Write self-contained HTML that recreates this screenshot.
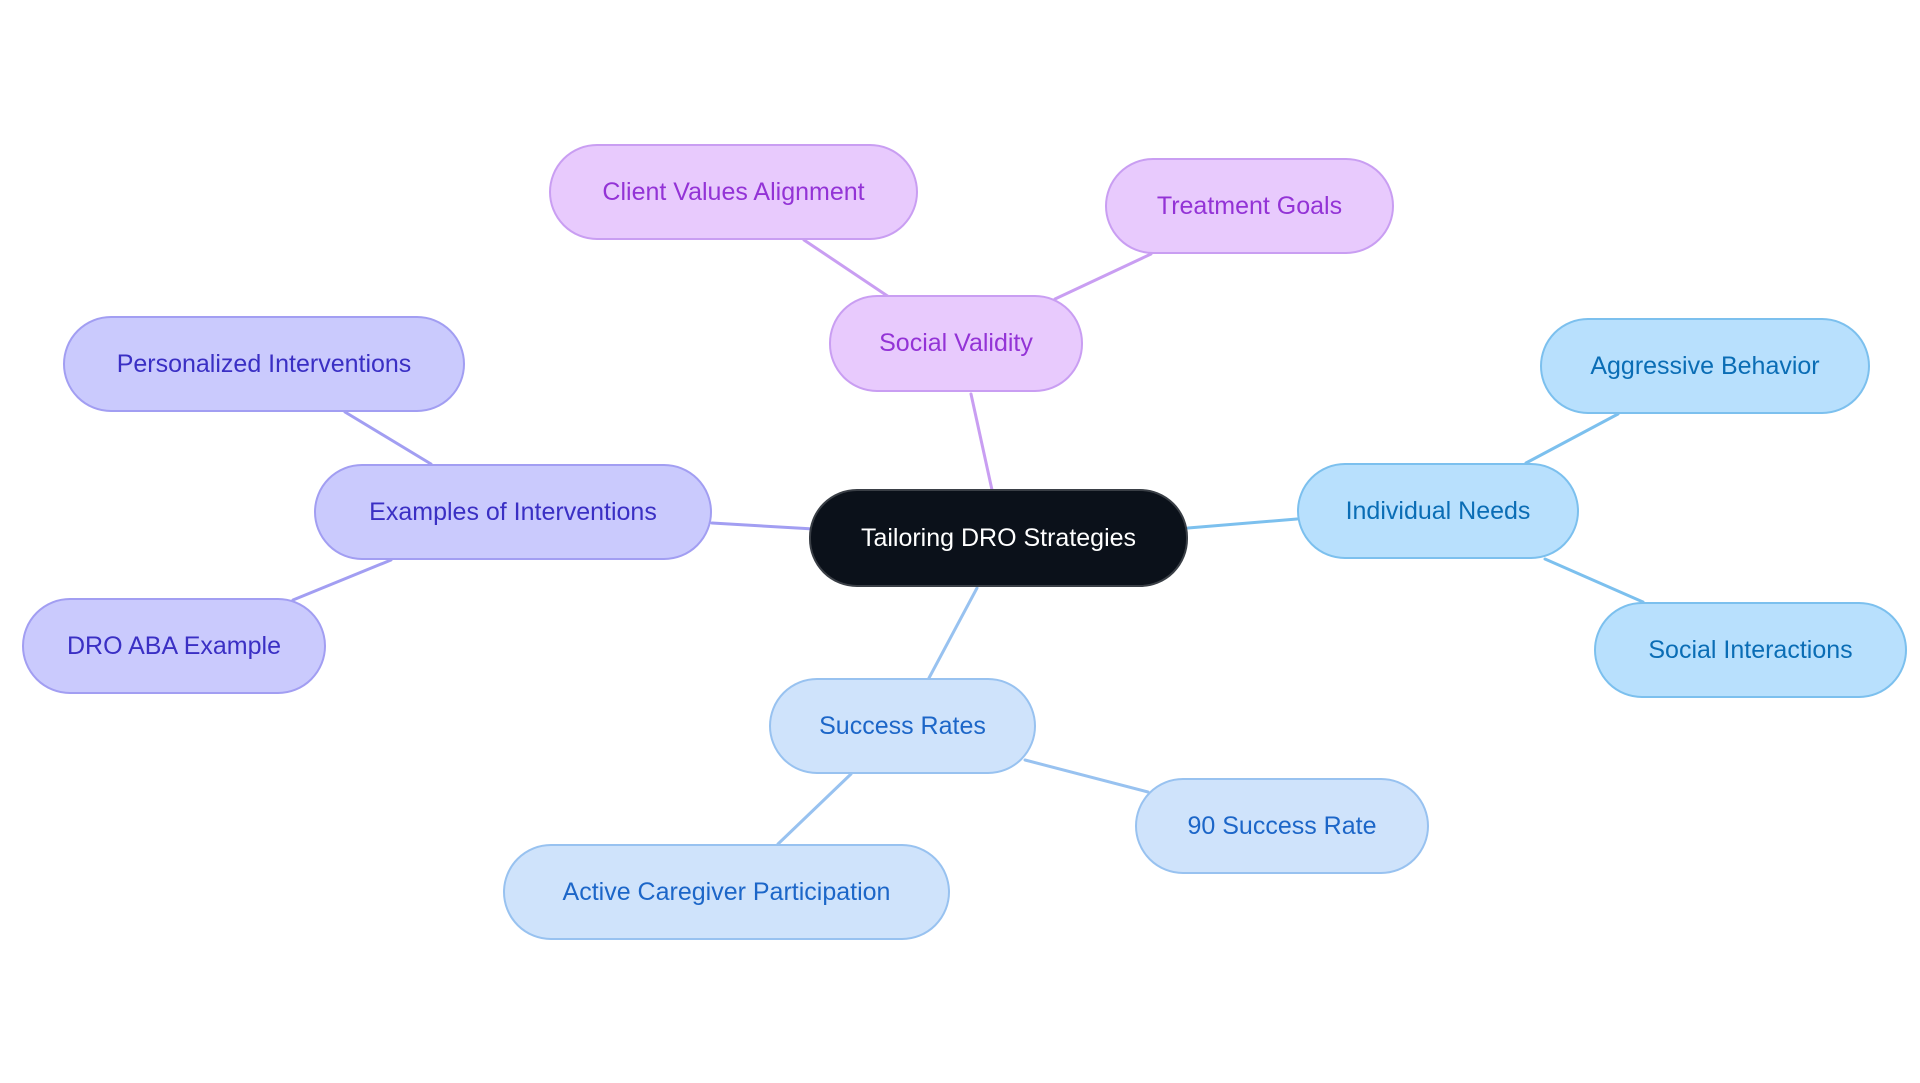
<!DOCTYPE html>
<html><head><meta charset="utf-8"><style>
body{margin:0;width:1920px;height:1083px;background:#fff;position:relative;overflow:hidden;font-family:"Liberation Sans",sans-serif}
.n{position:absolute;box-sizing:border-box;border-radius:48px;border:2px solid;display:flex;align-items:center;justify-content:center;font-size:25px;white-space:nowrap}
.c{background:#0b111a;border-color:#3a3f46;color:#fff}
.p{background:#e8cafd;border-color:#c99ef2;color:#9333d6}
.i{background:#cacafd;border-color:#a29ef2;color:#3a2fc4}
.b{background:#b8e0fd;border-color:#7cc0ee;color:#0a6db5}
.l{background:#cfe3fb;border-color:#98c2f0;color:#1c66c8}
svg{position:absolute;left:0;top:0}
</style></head><body>
<svg width="1920" height="1083">
<g stroke-width="3" fill="none" stroke-linecap="round">
<line x1="992" y1="490" x2="971" y2="394" stroke="#c99ef2"/>
<line x1="889" y1="297" x2="804" y2="240" stroke="#c99ef2"/>
<line x1="1055" y1="299" x2="1151" y2="254" stroke="#c99ef2"/>
<line x1="814" y1="529" x2="712" y2="523" stroke="#a29ef2"/>
<line x1="431" y1="464" x2="345" y2="412" stroke="#a29ef2"/>
<line x1="391" y1="560" x2="293" y2="600" stroke="#a29ef2"/>
<line x1="1188" y1="528" x2="1297" y2="519" stroke="#7cc0ee"/>
<line x1="1526" y1="463" x2="1618" y2="414" stroke="#7cc0ee"/>
<line x1="1545" y1="559" x2="1643" y2="602" stroke="#7cc0ee"/>
<line x1="977" y1="588" x2="929" y2="678" stroke="#98c2f0"/>
<line x1="1025" y1="760" x2="1148" y2="792" stroke="#98c2f0"/>
<line x1="851" y1="774" x2="778" y2="844" stroke="#98c2f0"/>
</g></svg>
<div class="n c" style="left:809px;top:489px;width:379px;height:98px">Tailoring DRO Strategies</div>
<div class="n p" style="left:829px;top:295px;width:254px;height:97px">Social Validity</div>
<div class="n p" style="left:549px;top:144px;width:369px;height:96px">Client Values Alignment</div>
<div class="n p" style="left:1105px;top:158px;width:289px;height:96px">Treatment Goals</div>
<div class="n i" style="left:63px;top:316px;width:402px;height:96px">Personalized Interventions</div>
<div class="n i" style="left:314px;top:464px;width:398px;height:96px">Examples of Interventions</div>
<div class="n i" style="left:22px;top:598px;width:304px;height:96px">DRO ABA Example</div>
<div class="n b" style="left:1297px;top:463px;width:282px;height:96px">Individual Needs</div>
<div class="n b" style="left:1540px;top:318px;width:330px;height:96px">Aggressive Behavior</div>
<div class="n b" style="left:1594px;top:602px;width:313px;height:96px">Social Interactions</div>
<div class="n l" style="left:769px;top:678px;width:267px;height:96px">Success Rates</div>
<div class="n l" style="left:1135px;top:778px;width:294px;height:96px">90 Success Rate</div>
<div class="n l" style="left:503px;top:844px;width:447px;height:96px">Active Caregiver Participation</div>
</body></html>
